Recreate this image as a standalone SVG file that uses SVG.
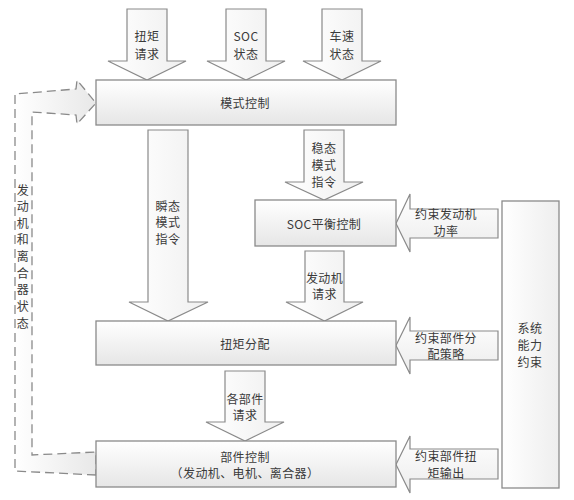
<svg xmlns="http://www.w3.org/2000/svg" width="574" height="500" viewBox="0 0 574 500">
<defs>
<linearGradient id="gBox" x1="0" y1="0" x2="0" y2="1">
<stop offset="0" stop-color="#ffffff"/><stop offset="1" stop-color="#e6e6e6"/>
</linearGradient>
<linearGradient id="gV" x1="0" y1="0" x2="1" y2="0">
<stop offset="0" stop-color="#ffffff"/><stop offset="1" stop-color="#efefef"/>
</linearGradient>
<linearGradient id="gH" x1="0" y1="0" x2="0" y2="1">
<stop offset="0" stop-color="#ffffff"/><stop offset="1" stop-color="#ececec"/>
</linearGradient>
<linearGradient id="gSys" x1="0" y1="0" x2="1" y2="0">
<stop offset="0" stop-color="#ffffff"/><stop offset="1" stop-color="#eeeeee"/>
</linearGradient>
<linearGradient id="gDash" gradientUnits="userSpaceOnUse" x1="15" y1="0" x2="96" y2="0">
<stop offset="0" stop-color="#ffffff"/><stop offset="1" stop-color="#e8e8e8"/>
</linearGradient>
</defs>
<style>
.box{fill:url(#gBox);stroke:#8a8a8a;stroke-width:1.3}
.arv{fill:url(#gV);stroke:#8a8a8a;stroke-width:1.2}
.arh{fill:url(#gH);stroke:#8a8a8a;stroke-width:1.2}
.dash{fill:url(#gDash);stroke:#8a8a8a;stroke-width:1.3;stroke-dasharray:9 5}
text{font-family:"Microsoft YaHei","Noto Sans CJK SC",sans-serif;font-size:12px;letter-spacing:0.4px;fill:#3a3a3a;text-anchor:middle;dominant-baseline:central}
</style>
<rect width="574" height="500" fill="#ffffff"/>
<g id="connectors">
<polygon class="arv" points="127,9 167,9 167,61 186,61 147,80 108,61 127,61"/>
<polygon class="arv" points="226,9 266,9 266,61 285,61 246,80 207,61 226,61"/>
<polygon class="arv" points="322,9 362,9 362,61 381,61 342,80 303,61 322,61"/>
<polygon class="arv" points="148,130 188,130 188,302 208,302 168,321 129,302 148,302"/>
<polygon class="arv" points="304,130 344,130 344,182 363,182 324,200 285,182 304,182"/>
<polygon class="arv" points="305,251 344,251 344,302 363,302 324.5,321 286,302 305,302"/>
<polygon class="arv" points="225,371 265,371 265,422 284,422 245,441 206,422 225,422"/>
<polygon class="arh" points="498,209 498,238 410,238 410,252 396,223.5 410,194 410,209"/>
<polygon class="arh" points="498,331 498,360 410,360 410,374 396,345.5 410,317 410,331"/>
<polygon class="arh" points="498,449 498,479 410,479 410,493 396,464.5 410,436 410,449"/>
<polygon class="dash" points="96,475 15,471 15,94 76,89 77,80 96,103 77,124 76,115 32,112 32,455 96,452"/>
<text x="147" y="35">扭矩</text><text x="147" y="53">请求</text>
<text x="246" y="35">SOC</text><text x="246" y="53">状态</text>
<text x="342" y="35">车速</text><text x="342" y="53">状态</text>
<text x="168" y="205">瞬态</text><text x="168" y="221.5">模式</text><text x="168" y="238">指令</text>
<text x="324" y="147">稳态</text><text x="324" y="164">模式</text><text x="324" y="181">指令</text>
<text x="324.5" y="277">发动机</text><text x="324.5" y="293">请求</text>
<text x="245" y="398">各部件</text><text x="245" y="414">请求</text>
<text x="446" y="213">约束发动机</text><text x="446" y="230">功率</text>
<text x="446" y="337">约束部件分</text><text x="446" y="353">配策略</text>
<text x="446" y="455">约束部件扭</text><text x="446" y="472">矩输出</text>
<text x="23" y="189">发</text><text x="23" y="205.5">动</text><text x="23" y="222">机</text><text x="23" y="238.5">和</text><text x="23" y="255">离</text><text x="23" y="272">合</text><text x="23" y="288.5">器</text><text x="23" y="305">状</text><text x="23" y="322">态</text>
</g>
<g id="mode">
<rect class="box" x="96" y="80" width="300" height="45"/>
<text x="245" y="102">模式控制</text>
</g>
<g id="soc">
<rect class="box" x="255" y="200" width="141" height="46"/>
<text x="324" y="223">SOC平衡控制</text>
</g>
<g id="torque">
<rect class="box" x="96" y="321" width="300" height="44"/>
<text x="245" y="343">扭矩分配</text>
</g>
<g id="component">
<rect class="box" x="96" y="441" width="300" height="46"/>
<text x="245" y="456">部件控制</text>
<text x="245" y="472">（发动机、电机、离合器）</text>
</g>
<g id="system">
<rect class="box" x="502" y="201" width="57" height="287" style="fill:url(#gSys)"/>
<text x="530" y="327">系统</text><text x="530" y="344">能力</text><text x="530" y="361">约束</text>
</g>
</svg>
